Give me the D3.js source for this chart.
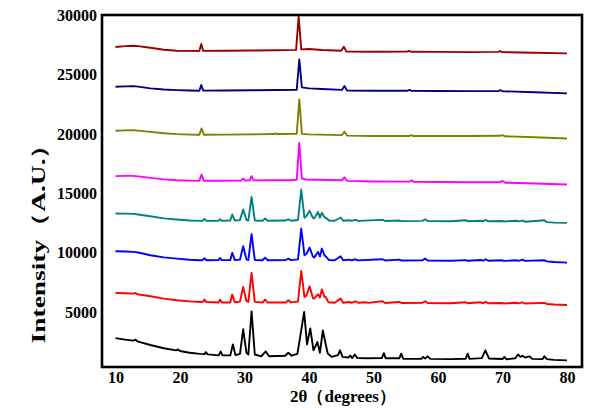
<!DOCTYPE html>
<html>
<head>
<meta charset="utf-8">
<script src="https://cdn.jsdelivr.net/npm/d3@7"></script>
<style>
  html, body { margin: 0; padding: 0; background: #ffffff; }
  svg { display: block; }
</style>
</head>
<body>
<svg id="chart" width="609" height="415"></svg>
<script>
// ---- data: [2θ (degrees), intensity (A.U.)] ----
const seriesDarkRed = [
  [10,27306],[11.5,27380],[12.8,27418],[13.5,27380],[15.4,27250],[17.5,27080],[19.5,26997],[21.5,26980],[23.0,26970],[23.3,27559],[23.6,26980],
  [27,26990],[31,27010],[35,27040],[38.0,27070],[38.4,29860],[38.8,27110],[40,27138],[42,27060],[45.0,26990],[45.4,27334],[45.8,26920],
  [50,26913],[55.2,26920],[55.5,26990],[55.8,26910],[60,26900],[65,26880],[69.3,26900],[69.6,26970],[69.9,26880],[75,26820],[80,26776]
];
const seriesNavy = [
  [10,23966],[11.5,24000],[12.8,24023],[13.5,23980],[15.4,23830],[17.5,23730],[19.5,23686],[21.5,23650],[23.0,23630],[23.3,24107],[23.6,23640],
  [27,23650],[31,23670],[35,23690],[38.1,23720],[38.5,26270],[38.9,23914],[40,23830],[42,23780],[45.1,23700],[45.5,24023],[45.9,23640],
  [50,23630],[55.3,23630],[55.6,23700],[55.9,23620],[60,23610],[65,23600],[69.4,23610],[69.7,23680],[70.0,23590],[75,23500],[80,23409]
];
const seriesOlive = [
  [10,20261],[11.5,20300],[12.8,20319],[13.5,20280],[15.4,20176],[17.5,20060],[19.5,19983],[21.5,19940],[23.0,19925],[23.35,20462],[23.7,19930],
  [27,19940],[31,19960],[34.5,19990],[34.8,20038],[35.1,19990],[38.1,20010],[38.5,22903],[38.9,20000],[40,19960],[45.1,19900],[45.5,20176],[45.9,19860],
  [50,19830],[55.6,19830],[55.9,19900],[56.2,19820],[60,19820],[65,19820],[69.6,19840],[70.0,19898],[70.4,19800],[75,19720],[80,19620]
];
const seriesMagenta = [
  [10,16447],[11.5,16470],[12.8,16475],[13.5,16430],[15.4,16306],[17.5,16180],[19.5,16110],[21.5,16070],[23.0,16054],[23.35,16587],[23.7,16060],
  [26,16060],[28,16070],[29.5,16080],[29.8,16250],[30.1,16080],[30.8,16090],[31.1,16447],[31.4,16090],[34,16100],[37,16110],[38.1,16150],
  [38.5,19250],[38.9,16250],[39.5,16166],[41,16140],[45.1,16100],[45.5,16335],[45.9,16050],[50,16000],[55.6,15990],[55.9,16110],[56.2,15980],
  [60,15960],[65,15930],[69.6,15930],[70.0,16054],[70.4,15900],[75,15830],[80,15750]
];
const seriesTeal = [
  [10,13306],[11.5,13300],[12.8,13280],[13.5,13220],[15.4,13080],[17.5,12900],[19.5,12800],[21.5,12720],[23.1,12685],[23.5,12700],[23.8,12860],[24.1,12690],
  [26.0,12700],[26.2,12827],[26.5,12700],[27.8,12720],[28.1,13222],[28.5,12720],[29.3,12750],[29.8,13643],[30.3,12760],[30.6,12720],[31.1,14705],[31.6,12720],
  [32.8,12700],[33.2,12886],[33.6,12700],[36.4,12720],[36.8,12827],[37.2,12700],[38.3,12760],[38.8,15323],[39.3,12950],[39.6,13100],[40.1,13530],[40.6,12950],
  [40.8,12886],[41.4,13446],[41.7,12950],[42.0,13362],[42.4,13000],[42.7,12900],[43.1,12720],[44.0,12700],[44.9,12970],[45.3,12700],[46.3,12743],[46.6,12690],
  [47.2,12770],[47.6,12690],[51.4,12771],[51.8,12680],[54.0,12714],[54.4,12670],[57.6,12690],[58.0,12827],[58.4,12670],[62,12660],[64.3,12743],[64.6,12660],
  [66.6,12700],[67.0,12660],[67.4,12771],[67.8,12650],[69.9,12680],[70.2,12640],[72.1,12700],[72.5,12640],[73.1,12714],[73.5,12620],[76.5,12743],[76.9,12580],
  [78,12540],[80,12516]
];
const seriesBlue = [
  [10,10130],[11.5,10110],[12.8,10080],[13.5,10030],[15.4,9800],[17.5,9620],[19.5,9516],[21.5,9420],[23.1,9376],[23.5,9390],[23.8,9544],[24.1,9380],
  [26.0,9390],[26.2,9572],[26.5,9390],[27.8,9400],[28.1,9993],[28.5,9400],[29.3,9430],[29.8,10554],[30.3,9450],[30.6,9400],[31.1,11565],[31.6,9400],
  [32.8,9380],[33.2,9600],[33.6,9380],[36.4,9400],[36.8,9516],[37.2,9390],[38.3,9450],[38.8,12040],[39.3,9800],[39.6,9900],[40.1,10443],[40.6,9700],
  [40.8,9600],[41.4,10078],[41.7,9700],[42.0,10360],[42.4,9800],[42.7,9650],[43.1,9390],[44.0,9380],[44.9,9713],[45.3,9380],[46.3,9433],[46.6,9370],
  [47.2,9460],[47.6,9370],[51.4,9460],[51.8,9360],[54.0,9433],[54.4,9350],[57.6,9370],[58.0,9516],[58.4,9360],[62,9340],[64.3,9390],[64.6,9330],
  [66.6,9400],[67.0,9340],[67.4,9460],[67.8,9330],[69.9,9376],[70.2,9320],[72.1,9376],[72.5,9330],[73.1,9433],[73.5,9320],[76.5,9376],[76.9,9280],
  [78,9230],[80,9180]
];
const seriesRed = [
  [10,6620],[11.5,6600],[12.8,6570],[13.1,6620],[13.4,6520],[15.4,6345],[17.5,6150],[19.5,6010],[21.5,5920],[23.1,5870],[23.6,5880],[23.8,6070],[24.1,5860],
  [26.0,5830],[26.2,6070],[26.5,5830],[27.8,5830],[28.1,6490],[28.5,5850],[29.3,5900],[29.8,7130],[30.3,5950],[30.6,5880],[31.1,8310],[31.6,5880],
  [32.8,5820],[33.2,6070],[33.6,5820],[36.4,5830],[36.8,6010],[37.2,5830],[38.3,5900],[38.8,8480],[39.3,6290],[39.6,6400],[40.1,7190],[40.6,6200],
  [40.8,6150],[41.4,6515],[41.7,6250],[42.0,6930],[42.4,6300],[42.6,6290],[43.0,5850],[44.0,5800],[44.9,6150],[45.3,5800],[46.3,5870],[46.6,5800],
  [47.2,5925],[47.6,5800],[48.8,5840],[49.2,5790],[51.4,5925],[51.8,5780],[54.0,5870],[54.4,5780],[57.6,5800],[58.0,5925],[58.4,5780],[62,5760],
  [64.3,5840],[64.6,5760],[66.6,5840],[67.0,5760],[67.4,5870],[67.8,5760],[69.9,5780],[70.2,5740],[72.1,5800],[72.5,5750],[73.1,5840],[73.5,5740],
  [76.5,5790],[76.9,5700],[78,5650],[80,5610]
];
const seriesBlack = [
  [10,2830],[11.5,2700],[12.8,2620],[13.1,2700],[13.4,2560],[15.4,2250],[17.5,1980],[19.4,1800],[19.7,1880],[20,1750],[21.5,1600],[23.1,1500],[23.8,1480],
  [24.0,1650],[24.3,1460],[26.0,1380],[26.3,1700],[26.6,1380],[27.8,1380],[28.2,2300],[28.6,1400],[29.3,1500],[29.8,3570],[30.3,1600],[30.6,1450],
  [31.1,5080],[31.6,1450],[32.6,1300],[33.3,1710],[33.8,1300],[36.3,1350],[36.8,1600],[37.3,1350],[38.2,1500],[38.6,2800],[39.25,5030],[39.7,2300],
  [40.2,3650],[40.7,1800],[41.3,2500],[41.7,1600],[42.15,3480],[42.6,2300],[42.9,1550],[43.5,1250],[44.5,1400],[44.8,1800],[45.2,1250],[46.1,1200],
  [46.4,1360],[46.7,1150],[47.1,1450],[47.5,1150],[49,1130],[51.3,1150],[51.6,1560],[51.9,1130],[54.0,1130],[54.3,1520],[54.6,1100],[57.4,1080],
  [57.7,1250],[58.0,1100],[58.4,1300],[58.8,1080],[62,1060],[64.3,1100],[64.6,1520],[64.9,1080],[66.8,1150],[67.35,1800],[67.9,1120],[70.0,1070],
  [70.3,1250],[70.6,1050],[72.0,1130],[72.4,1450],[72.8,1250],[73.1,1350],[73.5,1200],[74.2,1300],[74.6,1080],[76.2,1060],[76.5,1300],[76.9,1060],
  [78,1000],[80,960]
];

const seriesList = [seriesDarkRed, seriesNavy, seriesOlive, seriesMagenta, seriesTeal, seriesBlue, seriesRed, seriesBlack];
const seriesColors = ["#990000", "#000080", "#808000", "#ff00ff", "#008080", "#0000ff", "#ff0000", "#000000"];

const xTicks = [10, 20, 30, 40, 50, 60, 70, 80];
const yTicks = [5000, 10000, 15000, 20000, 25000, 30000];
const xDomain = [7.91, 82.33];
const yDomain = [400, 30000];
const xTitle = "2θ（degrees）";
const yTitle = "Intensity（A.U.）";

// ---- layout ----
const plot = { left: 102, right: 582, top: 15, bottom: 367 };
const svg = d3.select("#chart");

const x = d3.scaleLinear().domain(xDomain).range([plot.left, plot.right]);
const y = d3.scaleLinear().domain(yDomain).range([plot.bottom, plot.top]);

const fontFam = "'Liberation Serif', 'Times New Roman', 'DejaVu Serif', serif";

// traces
const line = d3.line().x(d => x(d[0])).y(d => y(d[1]));
svg.append("g")
  .selectAll("path")
  .data(seriesList)
  .join("path")
  .attr("d", line)
  .attr("fill", "none")
  .attr("stroke", (d, i) => seriesColors[i])
  .attr("stroke-width", 1.9)
  .attr("stroke-linejoin", "round");

// x axis (labels only)
const xAxis = d3.axisBottom(x).tickValues(xTicks).tickSize(0).tickFormat(d3.format("d"));
const gx = svg.append("g").attr("transform", `translate(0,${plot.bottom})`).call(xAxis);
gx.select(".domain").remove();
gx.selectAll("text")
  .attr("font-family", fontFam).attr("font-weight", "bold").attr("font-size", 16).attr("fill", "#000")
  .attr("y", 16).attr("dy", 0);

// y axis (labels only)
const yAxis = d3.axisLeft(y).tickValues(yTicks).tickSize(0).tickPadding(5).tickFormat(d3.format("d"));
const gy = svg.append("g").attr("transform", `translate(${plot.left},0)`).call(yAxis);
gy.select(".domain").remove();
gy.selectAll("text")
  .attr("font-family", fontFam).attr("font-weight", "bold").attr("font-size", 16).attr("fill", "#000");

// frame
svg.append("rect")
  .attr("x", plot.left).attr("y", plot.top)
  .attr("width", plot.right - plot.left).attr("height", plot.bottom - plot.top)
  .attr("fill", "none").attr("stroke", "#000").attr("stroke-width", 2.6);

// titles
svg.append("text")
  .attr("x", 343).attr("y", 402)
  .attr("text-anchor", "middle")
  .attr("font-family", fontFam).attr("font-weight", "bold").attr("font-size", 17)
  .text(xTitle);

const yt = svg.append("text")
  .attr("text-anchor", "middle")
  .attr("font-family", fontFam).attr("font-weight", "bold").attr("font-size", 19)
  .text(yTitle);
const natural = yt.node().getComputedTextLength();
const sx = natural > 0 ? 212 / natural : 1;
yt.attr("transform", `translate(45,237) rotate(-90) scale(${sx},1)`);
</script>
</body>
</html>
